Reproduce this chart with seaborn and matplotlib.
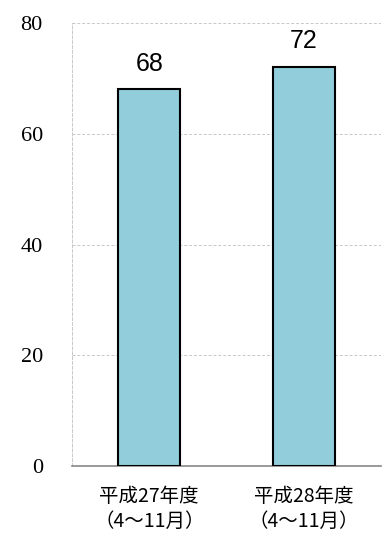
import matplotlib
matplotlib.use("Agg")
import matplotlib.pyplot as plt
import seaborn as sns
import pandas as pd

categories = ["平成27年度\n（4〜11月）", "平成28年度\n（4〜11月）"]
values = [68, 72]
y_ticks = [0, 20, 40, 60, 80]

df = pd.DataFrame({"period": categories, "count": values})

sns.set_style("white")
plt.rcParams['font.family'] = ['Noto Sans CJK JP', 'DejaVu Sans']
plt.rcParams['text.color'] = 'black'
plt.rcParams['xtick.labelcolor'] = 'black'
plt.rcParams['ytick.labelcolor'] = 'black'

fig = plt.figure(figsize=(3.83, 5.34), dpi=100)
ax = fig.add_axes([0.188, 0.127, 0.807, 0.830])

sns.barplot(data=df, x="period", y="count", color="#92CDDC", saturation=1,
            width=0.4, edgecolor="black", linewidth=1.5, ax=ax, zorder=3)

ax.set_xlim(-0.5, 1.5)
ax.set_ylim(0, 80)
ax.set_yticks(y_ticks)
ax.set_yticklabels([str(t) for t in y_ticks], family="Liberation Serif", fontsize=16)
ax.tick_params(axis="y", length=0, pad=21)
ax.yaxis.grid(True, color="#c8c8c8", linestyle=(0, (3, 2)), linewidth=0.7, zorder=0)

ax.set_xticks(range(len(categories)))
ax.set_xticklabels(categories, fontsize=14, linespacing=1.25)
ax.tick_params(axis="x", which="major", length=0, pad=14)
ax.set_xticks([-0.5, 0.5, 1.5], minor=True)
ax.tick_params(axis="x", which="minor", length=5, color="#888888", width=1, direction="out")

for s in ["top", "right"]:
    ax.spines[s].set_visible(False)
ax.spines["left"].set_color("#c8c8c8")
ax.spines["left"].set_linestyle((0, (3, 2)))
ax.spines["left"].set_linewidth(0.7)
ax.spines["bottom"].set_color("#888888")
ax.spines["bottom"].set_linewidth(1.2)

for i, v in enumerate(values):
    ax.annotate(str(v), (i, v), xytext=(0, 10), textcoords="offset points",
                ha="center", va="bottom", fontsize=18, family="Liberation Sans")

ax.set_xlabel("")
ax.set_ylabel("")
fig.savefig("out.png", dpi=100)
